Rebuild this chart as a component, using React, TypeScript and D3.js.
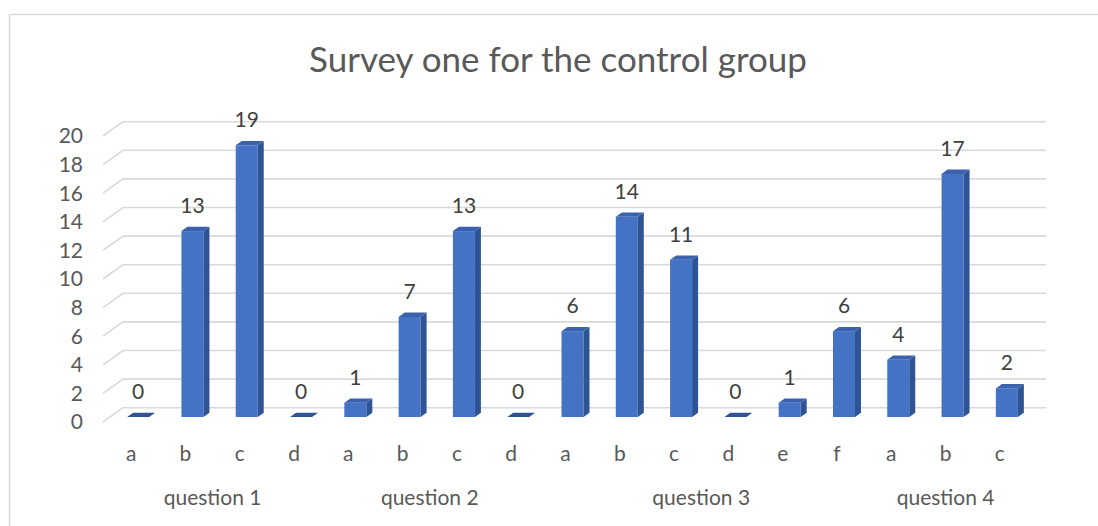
import * as d3 from "d3";

// survey answers, one entry per bar
const groups = ["question 1", "question 2", "question 3", "question 4"];
const answers = [
  ["a", "b", "c", "d"],
  ["a", "b", "c", "d"],
  ["a", "b", "c", "d", "e", "f"],
  ["a", "b", "c"],
];
const counts = [
  [0, 13, 19, 0],
  [1, 7, 13, 0],
  [6, 14, 11, 0, 1, 6],
  [4, 17, 2],
];
const yTicks = [0, 2, 4, 6, 8, 10, 12, 14, 16, 18, 20];

const FONT = "Lato, 'Open Sans', sans-serif";

export default function App() {
  const width = 1098;
  const height = 526;

  // 3d depth of the plot box
  const depthX = 20;
  const depthY = 14.3;

  const bars = answers.flatMap((list, g) =>
    list.map((label, i) => ({ key: `${g}-${i}`, group: g, label, value: counts[g][i] }))
  );

  const x = d3.scaleBand<string>()
    .domain(bars.map((d) => d.key))
    .range([104, 1027])
    .padding(0);

  const y = d3.scaleLinear().domain([0, 20]).range([422, 136]);

  const barW = 22;
  const t0 = 0.35; // bar front face position within the depth
  const t1 = 0.3; // bar depth
  const fx = depthX * t0, fy = depthY * t0;
  const sx = depthX * t1, sy = depthY * t1;

  const x0 = x.range()[0];
  const x1 = x.range()[1];

  return (
    <div style={{ position: "absolute", left: 0, top: 0 }}>
      <svg width={width} height={height} style={{ display: "block", background: "#fff" }}>
        <rect x={9.5} y={14.5} width={1200} height={600} fill="#fff" stroke="#d9d9d9" strokeWidth={1.5} />

        <text x={558} y={72} textAnchor="middle" fontFamily={FONT} fontSize={35} fill="#595959">
          Survey one for the control group
        </text>

        {/* gridlines: front edge to back wall */}
        <g stroke="#d9d9d9" strokeWidth={1.6} fill="none">
          {yTicks.map((t) => (
            <path
              key={t}
              d={`M${x0 - 1},${y(t)}L${x0 - 1 + depthX},${y(t) - depthY}L${x1 + depthX - 1},${y(t) - depthY}`}
            />
          ))}
        </g>

        <g fontFamily={FONT} fontSize={21} fill="#595959" textAnchor="end">
          {yTicks.map((t) => (
            <text key={t} x={83} y={y(t)} dy="0.35em">{t}</text>
          ))}
        </g>

        {/* bars */}
        <g>
          {bars.map((d) => {
            const cx = (x(d.key) ?? 0) + x.bandwidth() / 2 + fx;
            const left = cx - barW / 2;
            const right = cx + barW / 2;
            const base = y(0) - fy;
            const top = y(d.value) - fy;
            return (
              <g key={d.key}>
                {d.value > 0 && (
                  <>
                    <rect x={left} y={top} width={barW} height={base - top} fill="#4472c4" />
                    <path
                      d={`M${right},${top}L${right + sx},${top - sy}L${right + sx},${base - sy}L${right},${base}Z`}
                      fill="#2f5496"
                    />
                  </>
                )}
                <path
                  d={`M${left},${top}L${left + sx},${top - sy}L${right + sx},${top - sy}L${right},${top}Z`}
                  fill={d.value > 0 ? "#3a62ad" : "#2f5496"}
                />
                <text
                  x={cx}
                  y={top - 18}
                  textAnchor="middle"
                  fontFamily={FONT}
                  fontSize={21}
                  fill="#404040"
                >
                  {d.value}
                </text>
              </g>
            );
          })}
        </g>

        {/* category axis */}
        <g fontFamily={FONT} fontSize={21} fill="#595959" textAnchor="middle">
          {bars.map((d) => (
            <text key={d.key} x={(x(d.key) ?? 0) + x.bandwidth() / 2} y={461}>
              {d.label}
            </text>
          ))}
          {groups.map((g, gi) => {
            const keys = bars.filter((b) => b.group === gi).map((b) => b.key);
            const a = x(keys[0]) ?? 0;
            const b = (x(keys[keys.length - 1]) ?? 0) + x.bandwidth();
            return (
              <text key={g} x={(a + b) / 2} y={505}>
                {g}
              </text>
            );
          })}
        </g>
      </svg>
    </div>
  );
}
